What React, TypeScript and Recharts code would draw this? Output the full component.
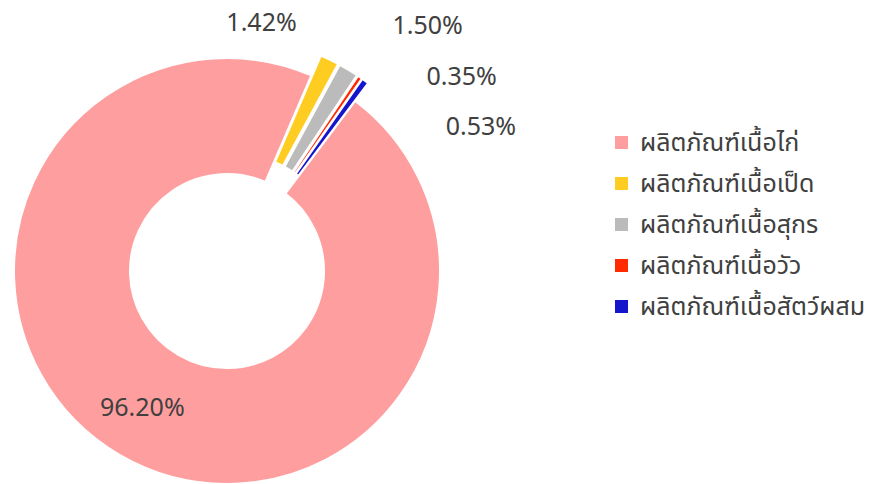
import { PieChart, Pie, Cell, Legend, Sector } from 'recharts'

const categories = [
  'ผลิตภัณฑ์เนื้อไก่',
  'ผลิตภัณฑ์เนื้อเป็ด',
  'ผลิตภัณฑ์เนื้อสุกร',
  'ผลิตภัณฑ์เนื้อวัว',
  'ผลิตภัณฑ์เนื้อสัตว์ผสม',
]
const shares = [96.2, 1.42, 1.5, 0.35, 0.53]
const colors = ['#FF9E9E', '#FFCC22', '#BBBBBB', '#FF2A00', '#1515CC']

const data = categories.map((name, i) => ({ name, value: shares[i] }))

const RAD = Math.PI / 180
const EXPLODE = 22
const TEXT = '#404040'
const FONT = '"Noto Sans", "Open Sans", sans-serif'
const THAI_FONT = '"Leelawadee UI", Tahoma, "Noto Sans Thai", "Noto Sans", sans-serif'

// excel pushed the small labels apart; offsets from each slice's mid angle
const labelShift = [
  { da: -2, dr: 0 },
  { da: 18, dr: 39 },
  { da: -8, dr: 105 },
  { da: -15.6, dr: 93 },
  { da: -24, dr: 80 },
]

const explodedSlice = (props: any) => {
  const off = props.index === 0 ? 0 : EXPLODE
  const dx = off * Math.cos(props.midAngle * RAD)
  const dy = -off * Math.sin(props.midAngle * RAD)
  return <Sector {...props} cx={props.cx + dx} cy={props.cy + dy} />
}

const renderLabel = (props: any) => {
  const { cx, cy, midAngle, innerRadius, outerRadius, index, value } = props
  const s = labelShift[index]
  const r = index === 0 ? (innerRadius + outerRadius) / 2 + 4 : outerRadius + s.dr
  const a = (midAngle + s.da) * RAD
  const x = cx + r * Math.cos(a)
  const y = cy - r * Math.sin(a)
  return (
    <text x={x} y={y} textAnchor="middle" dominantBaseline="central" fill={TEXT} fontSize={25} fontFamily={FONT}>
      {`${Number(value).toFixed(2)}%`}
    </text>
  )
}

const renderLegend = (props: any) => {
  const items = [...(props.payload || [])].sort(
    (a: any, b: any) => categories.indexOf(a.value) - categories.indexOf(b.value),
  )
  return (
    <div style={{ fontFamily: THAI_FONT, fontSize: 25, color: TEXT }}>
      {items.map((p: any) => (
        <div key={p.value} style={{ display: 'flex', alignItems: 'center', height: 41 }}>
          <span style={{ width: 13, height: 13, background: p.color, marginRight: 12, display: 'inline-block' }} />
          <span>{p.value}</span>
        </div>
      ))}
    </div>
  )
}

export default function App() {
  return (
    <div style={{ position: 'absolute', left: 0, top: 0, background: '#fff' }}>
      <PieChart width={879} height={484} margin={{ top: 0, right: 0, bottom: 0, left: 0 }}>
        <Pie
          data={data}
          dataKey="value"
          nameKey="name"
          cx={227}
          cy={271}
          innerRadius={97}
          outerRadius={213}
          startAngle={53}
          endAngle={-307}
          stroke="#fff"
          strokeWidth={2}
          label={renderLabel}
          labelLine={false}
          shape={explodedSlice}
          inactiveShape={explodedSlice}
          activeShape={explodedSlice}
          isAnimationActive={false}
        >
          {data.map((d, i) => (
            <Cell key={d.name} fill={colors[i]} />
          ))}
        </Pie>
        <Legend
          layout="vertical"
          align="right"
          verticalAlign="top"
          content={renderLegend}
          wrapperStyle={{ left: 615, top: 122, width: 264 }}
        />
      </PieChart>
    </div>
  )
}
